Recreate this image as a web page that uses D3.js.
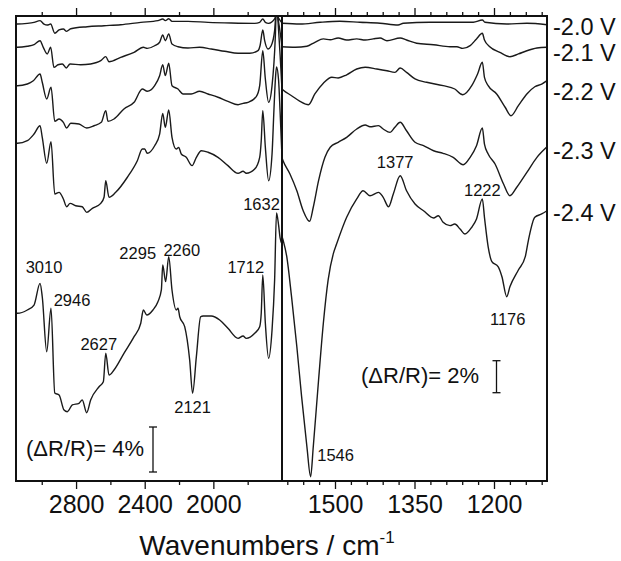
<!DOCTYPE html>
<html>
<head>
<meta charset="utf-8">
<script src="https://cdn.jsdelivr.net/npm/d3@7"></script>
<style>
  body { margin: 0; background: #fff; }
  svg { display: block; }
  text { font-family: "Liberation Sans", Arial, Helvetica, sans-serif; fill: #111; }
</style>
</head>
<body>
<svg id="chart" width="621" height="561"></svg>
<script>
// Electrode potentials, top trace to bottom trace
const potentials = ["-2.0 V", "-2.1 V", "-2.2 V", "-2.3 V", "-2.4 V"];

// High-wavenumber window (3150–1600 cm-1): [wavenumber, stacked ΔR/R in %]
const hi20 = [[3150,40.62],[3142,40.62],[3084,40.68],[3045,40.77],[3010,40.92],[2987,40.62],[2968,40.53],[2948,40.62],[2924,39.8],[2899,40.09],[2874,40.18],[2855,39.97],[2831,40.2],[2735,40.38],[2637,40.47],[2540,40.56],[2423,40.77],[2323,40.92],[2295,41.07],[2280,40.92],[2260,41.09],[2241,40.86],[2148,40.86],[2031,40.77],[1896,40.71],[1759,40.68],[1730,40.77],[1712,41.07],[1697,40.77],[1678,40.68],[1643,41.07],[1632,41.42],[1617,41.07],[1600,40.71]];
const hi21 = [[3150,38.55],[3142,38.55],[3084,38.64],[3045,38.78],[3010,39.14],[2991,38.55],[2968,37.96],[2948,38.55],[2929,36.77],[2905,37.0],[2880,37.07],[2857,36.71],[2835,37.07],[2773,37.0],[2715,37.07],[2656,37.36],[2627,37.72],[2608,37.27],[2540,37.66],[2462,38.11],[2408,38.55],[2385,38.46],[2342,38.69],[2313,39.0],[2295,39.64],[2280,39.14],[2260,39.73],[2241,38.84],[2206,38.6],[2148,38.49],[2080,38.55],[2012,38.4],[1934,38.2],[1856,38.02],[1788,38.02],[1740,38.25],[1728,38.69],[1712,40.09],[1701,39.14],[1682,38.4],[1663,38.69],[1643,40.03],[1632,42.0],[1620,40.8],[1611,39.91],[1600,38.58]];
const hi22 = [[3150,35.14],[3142,35.14],[3084,35.29],[3049,35.58],[3010,36.18],[2997,35.44],[2971,33.96],[2946,35.0],[2924,31.97],[2899,32.18],[2874,31.88],[2855,31.38],[2831,31.8],[2783,31.73],[2738,31.38],[2695,31.58],[2653,31.88],[2627,32.92],[2614,31.97],[2579,32.18],[2521,33.07],[2462,33.66],[2414,34.84],[2385,34.64],[2342,35.14],[2313,36.03],[2295,37.0],[2280,36.03],[2260,37.13],[2241,35.14],[2206,34.84],[2177,34.4],[2129,34.4],[2080,34.64],[2031,34.4],[1973,34.11],[1915,33.75],[1856,33.45],[1827,33.57],[1798,33.66],[1750,34.16],[1730,35.14],[1712,38.25],[1697,35.73],[1678,33.66],[1658,35.14],[1639,39.44],[1632,42.5],[1620,40.09],[1611,37.87],[1600,34.76]];
const hi23 = [[3150,30.02],[3142,30.02],[3084,30.25],[3045,30.84],[3010,31.58],[2997,30.55],[2971,28.24],[2946,30.16],[2924,25.51],[2899,25.66],[2874,25.07],[2855,24.38],[2835,24.68],[2802,24.47],[2764,24.38],[2738,23.88],[2705,24.24],[2656,24.68],[2637,25.22],[2627,26.69],[2608,25.22],[2569,25.66],[2501,27.0],[2443,28.47],[2414,29.51],[2400,29.51],[2385,29.13],[2342,29.8],[2313,30.84],[2295,32.68],[2280,31.44],[2260,32.98],[2241,30.55],[2216,29.51],[2202,29.66],[2187,29.07],[2158,28.77],[2124,28.03],[2099,28.77],[2070,29.36],[2031,29.22],[1973,28.77],[1915,28.03],[1856,27.35],[1827,27.53],[1808,27.35],[1759,27.73],[1730,28.77],[1721,30.25],[1712,32.92],[1697,29.66],[1678,26.69],[1658,29.07],[1647,32.98],[1638,35.82],[1632,36.8],[1620,35.64],[1611,32.8],[1600,28.8]];
const hi24 = [[3150,14.91],[3142,14.91],[3084,15.2],[3045,15.64],[3010,17.57],[2997,16.38],[2971,11.49],[2946,15.35],[2924,7.82],[2899,7.64],[2870,6.31],[2851,6.16],[2822,6.76],[2783,6.91],[2764,7.2],[2738,6.07],[2715,7.2],[2666,8.38],[2641,8.83],[2627,11.35],[2608,9.42],[2579,9.87],[2521,11.35],[2462,12.83],[2423,14.02],[2408,15.2],[2388,14.76],[2352,15.2],[2323,15.94],[2303,16.98],[2295,19.2],[2278,17.72],[2260,19.94],[2241,16.98],[2216,15.2],[2206,15.35],[2196,14.6],[2167,13.72],[2138,10.76],[2121,7.8],[2099,11.05],[2074,14.6],[2060,14.67],[2012,14.67],[1963,14.31],[1915,13.57],[1856,12.68],[1827,12.89],[1808,12.68],[1759,13.13],[1730,13.72],[1721,14.91],[1712,18.31],[1697,14.02],[1678,10.91],[1658,13.42],[1643,17.87],[1632,23.82],[1620,22.76],[1611,21.6],[1600,21.07]];

// Low-wavenumber window (1600–1100 cm-1): [wavenumber, stacked ΔR/R in %]
const lo20 = [[1600,28.61],[1566,28.56],[1528,28.67],[1491,28.73],[1453,28.67],[1415,28.61],[1381,28.5],[1371,28.61],[1321,28.67],[1277,28.67],[1239,28.67],[1222,28.81],[1217,28.67],[1176,28.56],[1138,28.61],[1100,28.52]];
const lo21 = [[1600,27.14],[1575,27.11],[1553,27.17],[1538,27.42],[1522,27.63],[1509,27.58],[1494,27.69],[1478,27.56],[1459,27.63],[1443,27.56],[1428,27.63],[1415,27.69],[1402,27.52],[1377,27.69],[1365,27.56],[1346,27.36],[1314,27.27],[1283,27.14],[1270,27.14],[1259,27.04],[1245,27.21],[1233,27.63],[1222,27.98],[1218,27.56],[1208,27.14],[1189,26.79],[1170,26.52],[1154,26.69],[1138,26.89],[1119,27.06],[1100,27.11]];
const lo22 = [[1600,24.5],[1598,24.44],[1582,24.08],[1566,23.73],[1550,23.52],[1538,24.19],[1522,24.86],[1506,25.23],[1494,25.19],[1478,25.39],[1459,25.75],[1443,25.86],[1421,25.75],[1402,25.64],[1387,25.54],[1377,25.81],[1365,25.54],[1349,25.13],[1327,24.92],[1296,24.71],[1274,24.5],[1259,24.14],[1242,24.71],[1231,25.44],[1222,26.17],[1218,25.23],[1211,24.71],[1195,24.19],[1179,23.36],[1168,22.83],[1154,23.46],[1138,24.19],[1123,24.64],[1110,24.81],[1100,25.02]];
const lo23 = [[1600,20.2],[1598,20.02],[1585,19.19],[1572,18.14],[1560,16.89],[1548,16.23],[1541,17.11],[1531,18.77],[1519,20.23],[1509,20.86],[1494,21.17],[1478,21.48],[1459,22.0],[1443,22.25],[1434,22.14],[1418,22.21],[1409,22.0],[1396,21.79],[1387,22.11],[1377,22.42],[1365,21.89],[1349,21.17],[1333,20.96],[1314,20.64],[1296,20.48],[1277,20.23],[1258,19.77],[1245,20.23],[1233,20.96],[1222,22.06],[1218,21.06],[1211,20.44],[1198,19.81],[1182,18.56],[1170,17.83],[1157,18.36],[1138,19.29],[1119,20.23],[1100,20.89]];
const lo24 = [[1600,15.3],[1598,15.06],[1591,14.02],[1582,11.52],[1572,8.39],[1563,5.27],[1553,2.14],[1546,0.27],[1541,2.14],[1531,6.31],[1522,9.86],[1513,12.56],[1503,14.23],[1497,14.81],[1478,16.48],[1459,17.63],[1447,18.14],[1434,17.83],[1418,18.04],[1409,17.73],[1399,17.14],[1390,17.94],[1377,19.08],[1365,18.14],[1349,17.31],[1333,16.89],[1314,16.44],[1305,16.58],[1296,16.17],[1283,15.96],[1274,16.06],[1264,15.75],[1255,15.44],[1242,15.86],[1233,16.38],[1222,17.63],[1218,16.48],[1211,14.64],[1204,13.71],[1192,13.39],[1185,12.77],[1176,11.52],[1170,12.14],[1154,13.19],[1141,14.02],[1135,15.06],[1123,16.48],[1110,16.69],[1100,16.89]];

// Axis ticks (cm-1)
const hiMajorTicks = [2800, 2400, 2000];
const hiMinorTicks = [3000, 2600, 2200, 1800];
const loMajorTicks = [1500, 1350, 1200];
const loMinorTicks = [1590, 1560, 1530, 1470, 1440, 1410, 1380, 1320, 1290, 1260, 1230, 1170, 1140, 1110];

// Band assignments marked on the -2.4 V trace
const hiBands = [3010, 2946, 2627, 2295, 2260, 2121, 1712, 1632];
const loBands = [1546, 1377, 1222, 1176];

// Scale-bar sizes (% ΔR/R)
const hiBarSize = 4;
const loBarSize = 2;

const hiSeries = [hi20, hi21, hi22, hi23, hi24];
const loSeries = [lo20, lo21, lo22, lo23, lo24];

// ---- layout ----
const svg = d3.select("#chart");
const plotTop = 16, plotBottom = 481, xLeft = 16, xSplit = 282, xRight = 547;

const xHi = d3.scaleLinear().domain([3150, 1600]).range([xLeft, xSplit]);
const xLo = d3.scaleLinear().domain([1600, 1100]).range([xSplit, xRight]);
const yHi = d3.scaleLinear().domain([0, 465 / 11.25]).range([plotBottom, plotTop]);
const yLo = d3.scaleLinear().domain([0, 465 / 16]).range([plotBottom, plotTop]);

const defs = svg.append("defs");
defs.append("clipPath").attr("id", "clipHi").append("rect")
  .attr("x", xLeft).attr("y", plotTop).attr("width", xSplit - xLeft).attr("height", plotBottom - plotTop);
defs.append("clipPath").attr("id", "clipLo").append("rect")
  .attr("x", xSplit).attr("y", plotTop).attr("width", xRight - xSplit).attr("height", plotBottom - plotTop);

function drawTraces(series, x, y, clip) {
  const line = d3.line().x(d => x(d[0])).y(d => y(d[1])).curve(d3.curveMonotoneX);
  svg.append("g").attr("clip-path", `url(#${clip})`)
    .selectAll("path").data(series).join("path")
    .attr("d", line)
    .attr("fill", "none")
    .attr("stroke", "#1a1a1a")
    .attr("stroke-width", 1.4)
    .attr("stroke-linejoin", "round");
}
drawTraces(hiSeries, xHi, yHi, "clipHi");
drawTraces(loSeries, xLo, yLo, "clipLo");

// ---- axes ----
function styleAxis(g) {
  g.select(".domain").remove();
  g.selectAll(".tick line").attr("stroke", "#111").attr("stroke-width", 1.3);
  g.selectAll(".tick text").attr("font-size", 25).attr("fill", "#111")
    .attr("font-family", '"Liberation Sans", Arial, sans-serif');
}
function addAxes(x, major, minor) {
  svg.append("g").attr("transform", `translate(0,${plotBottom})`)
    .call(d3.axisBottom(x).tickValues(major).tickSize(8).tickPadding(6).tickFormat(d3.format("d")))
    .call(styleAxis);
  svg.append("g").attr("transform", `translate(0,${plotBottom})`)
    .call(d3.axisBottom(x).tickValues(minor).tickSize(4).tickFormat(""))
    .call(styleAxis);
  svg.append("g").attr("transform", `translate(0,${plotTop})`)
    .call(d3.axisTop(x).tickValues(major).tickSize(8).tickFormat(""))
    .call(styleAxis);
  svg.append("g").attr("transform", `translate(0,${plotTop})`)
    .call(d3.axisTop(x).tickValues(minor).tickSize(4).tickFormat(""))
    .call(styleAxis);
}
addAxes(xHi, hiMajorTicks, hiMinorTicks);
addAxes(xLo, loMajorTicks, loMinorTicks);

// frame and panel divider
svg.append("rect")
  .attr("x", xLeft).attr("y", plotTop)
  .attr("width", xRight - xLeft).attr("height", plotBottom - plotTop)
  .attr("fill", "none").attr("stroke", "#111").attr("stroke-width", 2);
svg.append("line")
  .attr("x1", xSplit).attr("x2", xSplit).attr("y1", plotTop).attr("y2", plotBottom)
  .attr("stroke", "#111").attr("stroke-width", 2);

// ---- band labels, placed relative to the band on the -2.4 V trace ----
const bandOffsets = {
  3010: [4, -16], 2946: [21, -8], 2627: [-7, -9], 2295: [-25, -12], 2260: [13, -7],
  2121: [0, 14], 1712: [-17, -8], 1632: [-15, -9],
  1546: [25, -22], 1377: [-5, -14], 1222: [0, -9], 1176: [1, 22]
};
function valueAt(series, wn) {
  return series.find(d => d[0] === wn)[1];
}
function drawBands(bands, series, x, y) {
  svg.append("g").selectAll("text").data(bands).join("text")
    .attr("x", d => x(d) + bandOffsets[d][0])
    .attr("y", d => y(valueAt(series, d)) + bandOffsets[d][1])
    .attr("text-anchor", "middle")
    .attr("dominant-baseline", "central")
    .attr("font-size", 16.5)
    .text(d => d);
}
drawBands(hiBands, hi24, xHi, yHi);
drawBands(loBands, lo24, xLo, yLo);

// ---- potential labels at the right end of each trace ----
const potentialShift = [2, 6, 11, 4, 2];
svg.append("g").selectAll("text").data(potentials).join("text")
  .attr("x", xRight + 6)
  .attr("y", (d, i) => yLo(loSeries[i][loSeries[i].length - 1][1]) + potentialShift[i])
  .attr("dominant-baseline", "central")
  .attr("font-size", 23.5)
  .text(d => d);

// ---- scale bars ----
function scaleBar(xPos, yCenter, size, y, label, textX) {
  const half = (y(0) - y(size)) / 2;
  const g = svg.append("g").attr("stroke", "#111").attr("stroke-width", 1.3);
  g.append("line").attr("x1", xPos).attr("x2", xPos).attr("y1", yCenter - half).attr("y2", yCenter + half);
  g.append("line").attr("x1", xPos - 4).attr("x2", xPos + 4).attr("y1", yCenter - half).attr("y2", yCenter - half);
  g.append("line").attr("x1", xPos - 4).attr("x2", xPos + 4).attr("y1", yCenter + half).attr("y2", yCenter + half);
  svg.append("text").attr("x", textX).attr("y", yCenter - 1)
    .attr("dominant-baseline", "central").attr("font-size", 22)
    .text(label);
}
scaleBar(153, 449.5, hiBarSize, yHi, `(ΔR/R)= ${hiBarSize}%`, 26);
scaleBar(496.5, 376.7, loBarSize, yLo, `(ΔR/R)= ${loBarSize}%`, 361);

// ---- axis title ----
const title = svg.append("text")
  .attr("x", 267).attr("y", 555)
  .attr("text-anchor", "middle")
  .attr("font-size", 28);
title.append("tspan").text("Wavenumbers / cm");
title.append("tspan").attr("font-size", 17).attr("dy", -12).text("-1");
</script>
</body>
</html>
